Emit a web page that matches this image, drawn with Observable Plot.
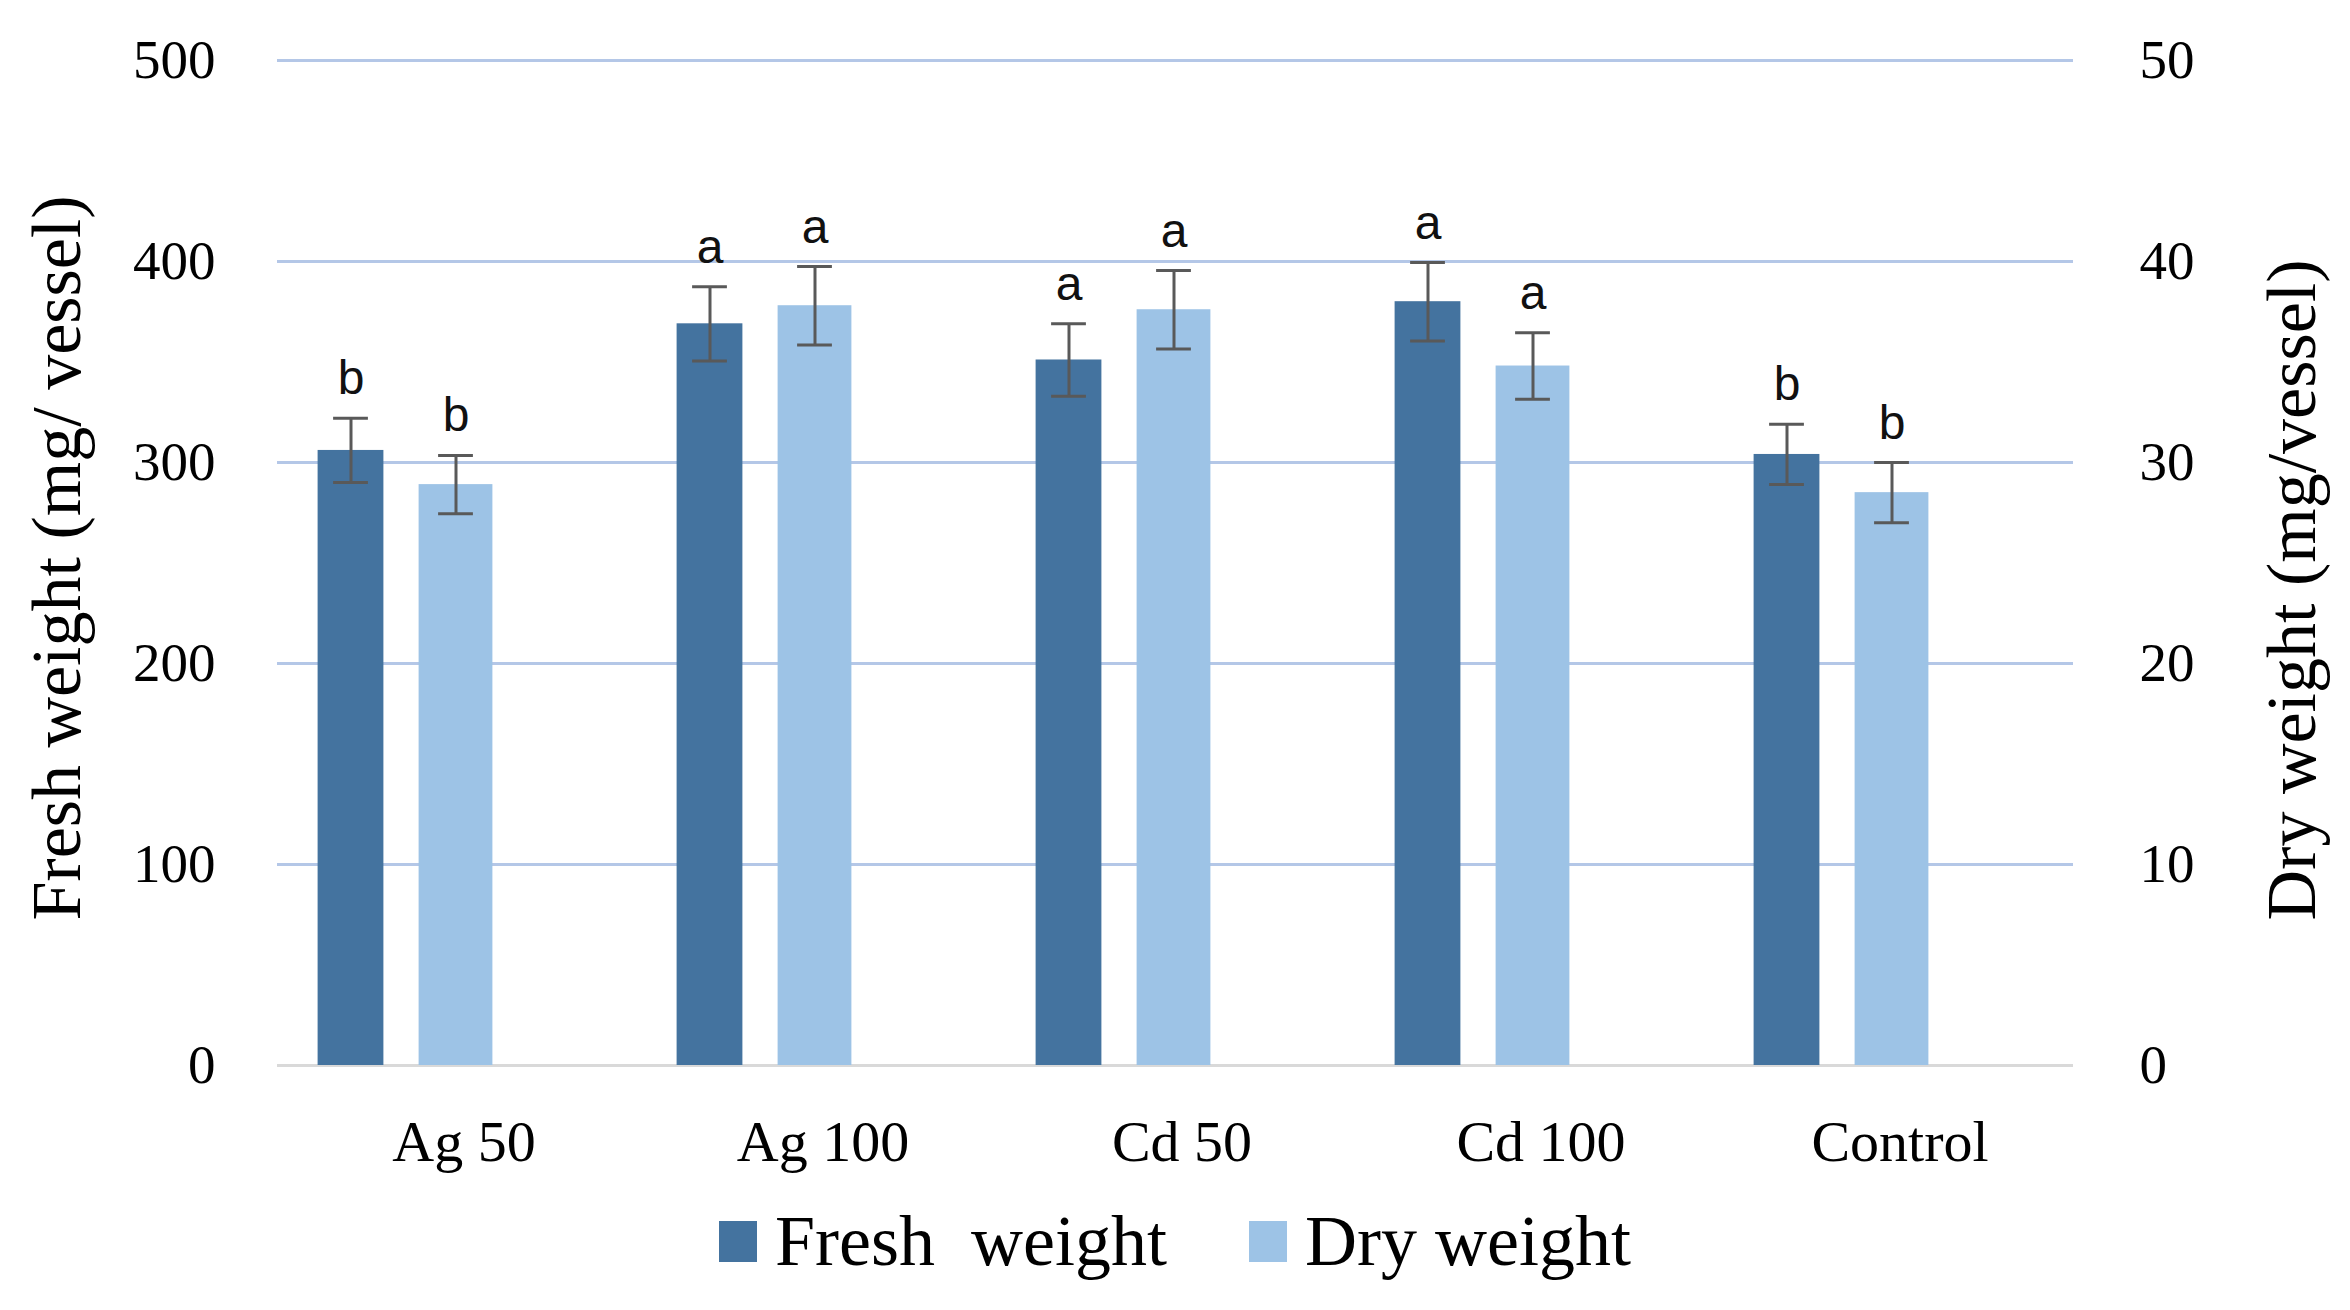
<!DOCTYPE html>
<html>
<head>
<meta charset="utf-8">
<script src="https://cdn.jsdelivr.net/npm/d3@7"></script>
<script src="https://cdn.jsdelivr.net/npm/@observablehq/plot@0.6"></script>
<style>
  html, body { margin: 0; padding: 0; background: #fff; }
  #chart { width: 2350px; height: 1310px; overflow: hidden; }
  .legend { display: flex; justify-content: center; align-items: center; height: 102px;
            font-family: "Liberation Serif", serif; font-size: 72px; color: #000; }
  .legend .item { display: flex; align-items: center; margin: 0 41px; }
  .legend .sw { width: 38px; height: 41px; margin-right: 18px; }
  .legend .lab { white-space: pre; }
</style>
</head>
<body>
<div id="chart"></div>
<script>
// ---- data ----
const categories = ["Ag 50", "Ag 100", "Cd 50", "Cd 100", "Control"];
const freshWeight = [306, 369, 351, 380, 304];      // mg/vessel (left axis)
const freshError  = [16, 18.5, 18, 19.5, 15];
const freshLetters = ["b", "a", "a", "a", "b"];
const dryWeight = [28.9, 37.8, 37.6, 34.8, 28.5];    // mg/vessel (right axis)
const dryError  = [1.45, 1.95, 1.95, 1.65, 1.5];
const dryLetters = ["b", "a", "a", "a", "b"];
const leftTicks = [0, 100, 200, 300, 400, 500];
const rightTicks = [0, 10, 20, 30, 40, 50];
const seriesNames = ["Fresh  weight", "Dry weight"];
const seriesColors = ["#44739f", "#9dc3e6"];
const axisTitles = ["Fresh weight (mg/ vessel)", "Dry weight (mg/vessel)"];

// right axis shares the left scale: dry values mapped by factor
const ratio = leftTicks[leftTicks.length - 1] / rightTicks[rightTicks.length - 1];

const fresh = categories.map((c, i) => ({
  cat: c, v: freshWeight[i], lo: freshWeight[i] - freshError[i], hi: freshWeight[i] + freshError[i], letter: freshLetters[i]
}));
const dry = categories.map((c, i) => ({
  cat: c, v: dryWeight[i] * ratio, lo: (dryWeight[i] - dryError[i]) * ratio, hi: (dryWeight[i] + dryError[i]) * ratio, letter: dryLetters[i]
}));

// ---- layout ----
const W = 2350, H = 1190, mL = 277, mR = 277, mT = 60, mB = 125;
const band = (W - mL - mR) / categories.length;
const darkW = 66, lightW = 74, capW = 35;
const darkDx = -107, lightDx = -2;
const ebStroke = "#595959";

function errorMarks(data, dx) {
  const ins = (band - capW) / 2;
  return [
    Plot.ruleX(data, {x: "cat", y1: "lo", y2: "hi", dx, stroke: ebStroke, strokeWidth: 3}),
    Plot.tickY(data, {x: "cat", y: "hi", dx, insetLeft: ins, insetRight: ins, stroke: ebStroke, strokeWidth: 3}),
    Plot.tickY(data, {x: "cat", y: "lo", dx, insetLeft: ins, insetRight: ins, stroke: ebStroke, strokeWidth: 3}),
    Plot.text(data, {x: "cat", y: "hi", text: "letter", dx, dy: -24, lineAnchor: "bottom",
      fontFamily: "Liberation Sans", fontSize: 48, fill: "#111"})
  ];
}

const plot = Plot.plot({
  width: W, height: H,
  marginLeft: mL, marginRight: mR, marginTop: mT, marginBottom: mB,
  style: {fontFamily: "Liberation Serif", fontSize: "55px", color: "#000", background: "#fff", overflow: "visible"},
  x: {domain: categories, padding: 0, axis: null},
  y: {domain: [leftTicks[0], leftTicks[leftTicks.length - 1]], axis: null},
  marks: [
    Plot.ruleY(leftTicks.filter(d => d > 0), {stroke: "#b4c7e7", strokeWidth: 3}),
    Plot.ruleY([0], {stroke: "#d9d9d9", strokeWidth: 3}),
    Plot.barY(fresh, {x: "cat", y: "v", fill: seriesColors[0], insetLeft: (band - darkW) / 2, insetRight: (band - darkW) / 2, dx: darkDx}),
    Plot.barY(dry, {x: "cat", y: "v", fill: seriesColors[1], insetLeft: (band - lightW) / 2, insetRight: (band - lightW) / 2, dx: lightDx}),
    ...errorMarks(fresh, darkDx),
    ...errorMarks(dry, lightDx),
    Plot.axisY(leftTicks, {anchor: "left", tickSize: 0, tickPadding: 62, fontSize: 55, label: null, tickFormat: d => String(d)}),
    Plot.axisY(rightTicks.map(d => d * ratio), {anchor: "right", tickSize: 0, tickPadding: 66, fontSize: 55, label: null, tickFormat: d => String(d / ratio)}),
    Plot.axisX({tickSize: 0, tickPadding: 54, fontSize: 58, label: null, dx: 6}),
    Plot.text([axisTitles[0]], {frameAnchor: "left", textAnchor: "middle", dx: 57 - mL, dy: -5, rotate: -90, fontSize: 70, fill: "#000"}),
    Plot.text([axisTitles[1]], {frameAnchor: "right", textAnchor: "middle", dx: 2292 - (W - mR), dy: 27, rotate: -90, fontSize: 70, fill: "#000"})
  ]
});

const chart = document.getElementById("chart");
chart.appendChild(plot);

const legend = document.createElement("div");
legend.className = "legend";
seriesNames.forEach((name, i) => {
  const item = document.createElement("div");
  item.className = "item";
  const sw = document.createElement("div");
  sw.className = "sw";
  sw.style.background = seriesColors[i];
  const lab = document.createElement("span");
  lab.className = "lab";
  lab.textContent = name;
  item.appendChild(sw);
  item.appendChild(lab);
  legend.appendChild(item);
});
chart.appendChild(legend);
</script>
</body>
</html>
